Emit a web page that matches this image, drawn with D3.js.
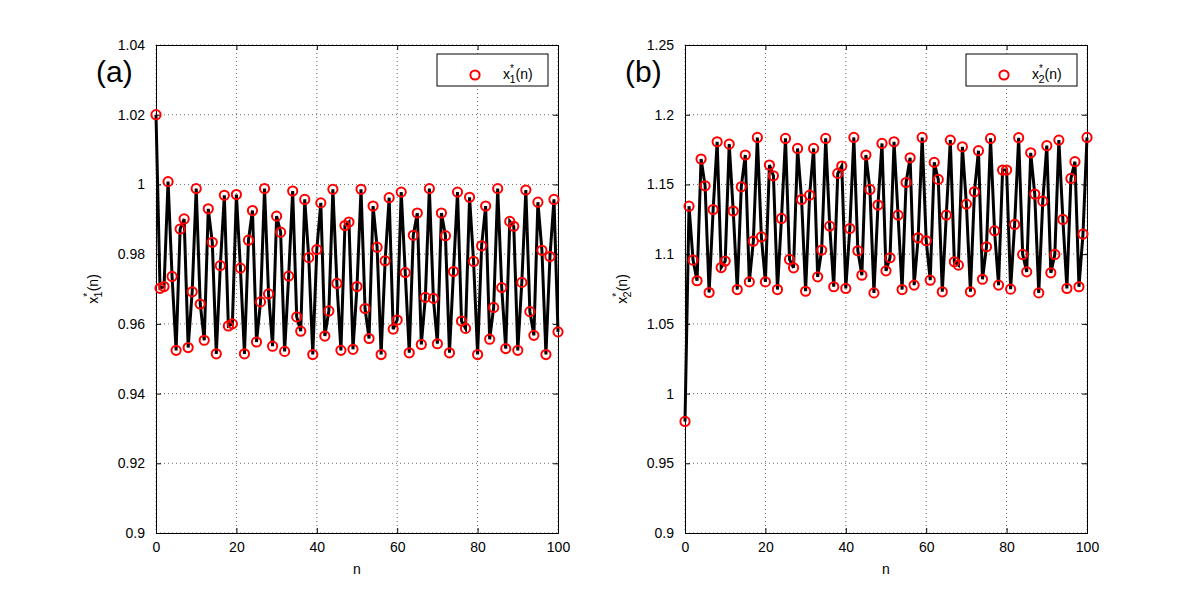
<!DOCTYPE html>
<html><head><meta charset="utf-8">
<script src="https://cdn.jsdelivr.net/npm/d3@7/dist/d3.min.js"></script>
<style>body{margin:0;background:#fff}svg{display:block;font-family:"Liberation Sans",Arial,sans-serif}</style>
</head><body><svg id="c" width="1200" height="599"></svg>
<script>
const nValues = d3.range(0, 101);
const x1Values = [1.02,0.9702,0.9707,1.0008,0.9736,0.9524,0.9872,0.9901,0.9532,0.9692,
0.9988,0.9657,0.9553,0.993,0.9834,0.9514,0.9767,0.9969,0.9594,0.960,
0.9971,0.976,0.9514,0.984,0.9925,0.9548,0.9663,0.9988,0.9686,0.9536,
0.9909,0.9863,0.9521,0.9737,0.9981,0.962,0.9579,0.9957,0.979,0.9512,
0.9813,0.9947,0.9565,0.9637,0.9986,0.9716,0.9524,0.9882,0.9892,0.9527,
0.9707,0.9986,0.9644,0.9558,0.9938,0.982,0.9512,0.9781,0.9962,0.9585,
0.9611,0.9978,0.9747,0.9517,0.9854,0.9918,0.9541,0.9676,0.9988,0.9673,
0.9543,0.9918,0.9853,0.9517,0.975,0.9978,0.9608,0.9587,0.9963,0.9779,
0.9512,0.9824,0.9938,0.9556,0.9647,0.9988,0.9704,0.9529,0.9894,0.988,
0.9524,0.9719,0.9984,0.9635,0.9567,0.9949,0.9811,0.9512,0.9793,0.9957,0.9577];
const x2Values = [0.98,1.1344,1.0957,1.0809,1.1682,1.149,1.0725,1.132,1.1806,1.0904,
1.095,1.1789,1.1309,1.0746,1.1483,1.1711,1.0801,1.1093,1.1837,1.1124,
1.0801,1.1639,1.1562,1.0746,1.1256,1.183,1.0962,1.0902,1.1758,1.1392,
1.0734,1.1423,1.1758,1.0837,1.1029,1.183,1.1201,1.0766,1.1579,1.1632,
1.0754,1.1184,1.1837,1.1024,1.0849,1.1711,1.1464,1.0722,1.1352,1.1794,
1.088,1.0974,1.1806,1.128,1.0746,1.1514,1.1691,1.0778,1.1117,1.1837,
1.1096,1.0813,1.1658,1.1536,1.073,1.128,1.1818,1.0945,1.0921,1.177,
1.1359,1.073,1.1447,1.1742,1.082,1.1053,1.183,1.1167,1.0778,1.1603,
1.1603,1.0749,1.1213,1.1835,1.0998,1.0873,1.1727,1.1431,1.0722,1.138,
1.1778,1.0866,1.0998,1.1818,1.1249,1.0754,1.1543,1.1663,1.0766,1.1144,1.1837];
const xTicks = [0,20,40,60,80,100];
const yTicks1 = [0.9,0.92,0.94,0.96,0.98,1,1.02,1.04];
const yTicks2 = [0.9,0.95,1,1.05,1.1,1.15,1.2,1.25];

const panels = [
  {left:156, right:558, values:x1Values, yDomain:[0.9,1.04], yTicks:yTicks1, tag:"(a)", sub:"1"},
  {left:685, right:1087, values:x2Values, yDomain:[0.9,1.25], yTicks:yTicks2, tag:"(b)", sub:"2"}
];
const plotTop = 45, plotBottom = 533;
const svg = d3.select("#c");
const fmt = d => String(+d.toFixed(2));

function label(sel, sub){
  sel.append("tspan").text("x");
  sel.append("tspan").attr("font-size",10).attr("dy",-7).text("*");
  sel.append("tspan").attr("font-size",11).attr("dx",-4.5).attr("dy",11).text(sub);
  sel.append("tspan").attr("font-size",14).attr("dy",-4).text("(n)");
}

panels.forEach(p => {
  const xs = d3.scaleLinear().domain([0,100]).range([p.left,p.right]);
  const ys = d3.scaleLinear().domain(p.yDomain).range([plotBottom,plotTop]);
  const g = svg.append("g");
  g.append("rect").attr("x",p.left).attr("y",plotTop).attr("width",p.right-p.left).attr("height",plotBottom-plotTop).attr("fill","#fff");
  g.append("g").selectAll("line").data(xTicks).join("line")
    .attr("x1",d=>xs(d)).attr("x2",d=>xs(d)).attr("y1",plotTop).attr("y2",plotBottom)
    .attr("stroke","#444").attr("stroke-width",0.8).attr("stroke-dasharray","1,3");
  g.append("g").selectAll("line").data(p.yTicks).join("line")
    .attr("y1",d=>ys(d)).attr("y2",d=>ys(d)).attr("x1",p.left).attr("x2",p.right)
    .attr("stroke","#444").attr("stroke-width",0.8).attr("stroke-dasharray","1,3");
  const ax = d3.axisBottom(xs).tickValues(xTicks).tickSize(-5).tickPadding(9).tickFormat(d3.format("d"));
  const axT = d3.axisTop(xs).tickValues(xTicks).tickSize(-5).tickFormat("");
  const ay = d3.axisLeft(ys).tickValues(p.yTicks).tickSize(-5).tickPadding(11).tickFormat(fmt);
  const ayR = d3.axisRight(ys).tickValues(p.yTicks).tickSize(-5).tickFormat("");
  [[ax,`translate(0,${plotBottom})`],[axT,`translate(0,${plotTop})`],[ay,`translate(${p.left},0)`],[ayR,`translate(${p.right},0)`]].forEach(([a,t])=>{
    const s = g.append("g").attr("transform",t).call(a);
    s.select(".domain").attr("stroke","#000").attr("stroke-width",1);
    s.selectAll(".tick line").attr("stroke","#000");
    s.selectAll("text").attr("font-size",14).attr("fill","#000").attr("font-family","Liberation Sans, Arial, sans-serif");
  });
  const line = d3.line().x((d,i)=>xs(nValues[i])).y(d=>ys(d));
  g.append("path").datum(p.values).attr("d",line).attr("fill","none").attr("stroke","#000").attr("stroke-width",3).attr("stroke-linejoin","miter");
  g.append("g").selectAll("circle").data(p.values).join("circle")
    .attr("cx",(d,i)=>xs(nValues[i])).attr("cy",d=>ys(d)).attr("r",4.6)
    .attr("fill","none").attr("stroke","#ff0000").attr("stroke-width",2);
  g.append("text").attr("x",(p.left+p.right)/2).attr("y",574).attr("text-anchor","middle").attr("font-size",14).text("n");
  const yl = g.append("text").attr("transform",`translate(${p.left-58},${(plotTop+plotBottom)/2}) rotate(-90)`).attr("text-anchor","middle").attr("font-size",14);
  label(yl, p.sub);
  g.append("text").attr("x",p.left-60).attr("y",82).attr("font-size",30).text(p.tag);
  const lg = g.append("g").attr("transform",`translate(${p.right-121},${plotTop+9})`);
  lg.append("rect").attr("width",111).attr("height",32).attr("fill","#fff").attr("stroke","#000");
  lg.append("circle").attr("cx",38).attr("cy",21).attr("r",4.6).attr("fill","none").attr("stroke","#ff0000").attr("stroke-width",2);
  const lt = lg.append("text").attr("x",66).attr("y",25).attr("font-size",14);
  label(lt, p.sub);
});
</script></body></html>
